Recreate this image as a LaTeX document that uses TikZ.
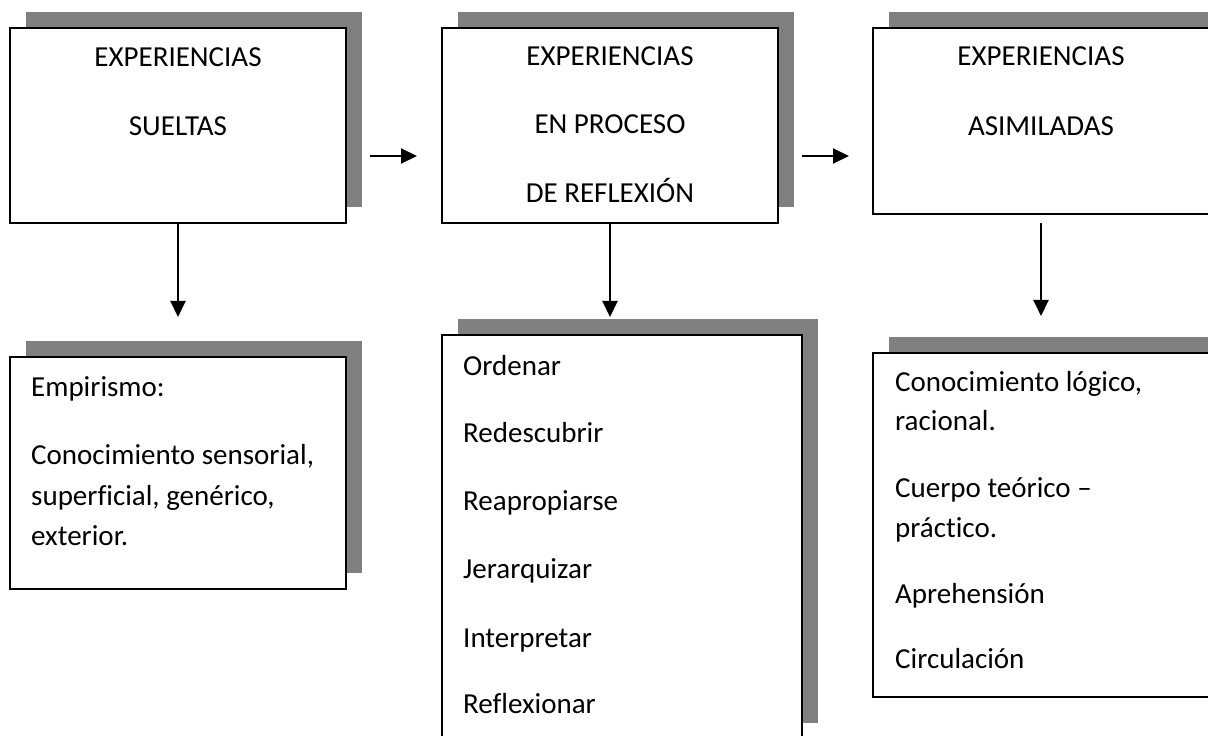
\documentclass[tikz,border=0pt]{standalone}
\usepackage{fontspec}
\setmainfont{Carlito}[Ligatures={NoCommon}]
\usetikzlibrary{arrows.meta,shadows}
\definecolor{shadowgray}{HTML}{808080}
\begin{document}
\begin{tikzpicture}[x=1bp,y=-1bp,
  box/.style={draw=black,line width=2bp,fill=white,rectangle,inner sep=0pt,
    drop shadow={shadow xshift=16bp,shadow yshift=16bp,fill=shadowgray,opacity=1}},
  txt/.style={inner sep=0pt,font=\fontsize{29bp}{35bp}\selectfont},
  ctxt/.style={txt,anchor=base},
  ltxt/.style={txt,anchor=base west},
  arr/.style={line width=2bp,-{Triangle[width=15bp,length=16bp]}}]
\useasboundingbox (0,0) rectangle (1208,736);
\clip (0,0) rectangle (1208,736);
% boxes
\node[box,minimum width=336bp,minimum height=195bp] (b1) at (178,125.5) {};
\node[box,minimum width=336bp,minimum height=195bp] (b2) at (610,125.5) {};
\node[box,minimum width=336bp,minimum height=186bp] (b3) at (1041,121) {};
\node[box,minimum width=336bp,minimum height=232bp] (b4) at (178,473) {};
\node[box,minimum width=360bp,minimum height=404bp] (b5) at (622,537) {};
\node[box,minimum width=336bp,minimum height=344bp] (b6) at (1041,525) {};
% header texts
\node[ctxt] (t11) at (178,67) {EXPERIENCIAS};
\node[ctxt] (t12) at (178,135) {SUELTAS};
\node[ctxt] (t21) at (610,66) {EXPERIENCIAS};
\node[ctxt] (t22) at (610,133) {EN PROCESO};
\node[ctxt] (t23) at (610,202) {DE REFLEXIÓN};
\node[ctxt] (t31) at (1041,66) {EXPERIENCIAS};
\node[ctxt] (t32) at (1041,135) {ASIMILADAS};
% box 4
\node[ltxt] (t41) at (31,396) {Empirismo:};
\node[ltxt] (t42) at (31,464) {Conocimiento sensorial,};
\node[ltxt] (t43) at (31,505) {superficial, genérico,};
\node[ltxt] (t44) at (31,545) {exterior.};
% box 5
\node[ltxt] (t51) at (463,375) {Ordenar};
\node[ltxt] (t52) at (463,442) {Redescubrir};
\node[ltxt] (t53) at (463,510) {Reapropiarse};
\node[ltxt] (t54) at (463,578) {Jerarquizar};
\node[ltxt] (t55) at (463,647) {Interpretar};
\node[ltxt] (t56) at (463,713) {Reflexionar};
% box 6
\node[ltxt] (t61) at (895,391) {Conocimiento lógico,};
\node[ltxt] (t62) at (895,430) {racional.};
\node[ltxt] (t63) at (895,497) {Cuerpo teórico –};
\node[ltxt] (t64) at (895,537) {práctico.};
\node[ltxt] (t65) at (895,603) {Aprehensión};
\node[ltxt] (t66) at (895,668) {Circulación};
% arrows
\draw[arr,shorten <=23bp,shorten >=24bp] ([yshift=-30.5bp]b1.east) -- ([yshift=-30.5bp]b2.west);
\draw[arr,shorten <=23bp,shorten >=23bp] ([yshift=-30.5bp]b2.east) -- ([yshift=-30.5bp]b2.east -| b3.west);
\draw[arr,shorten >=39bp] (b1.south) -- (b4.north);
\draw[arr,shorten >=17bp] (b2.south) -- (b2.south |- b5.north);
\draw[arr,shorten <=8bp,shorten >=36bp] (b3.south) -- (b6.north);
\end{tikzpicture}
\end{document}
